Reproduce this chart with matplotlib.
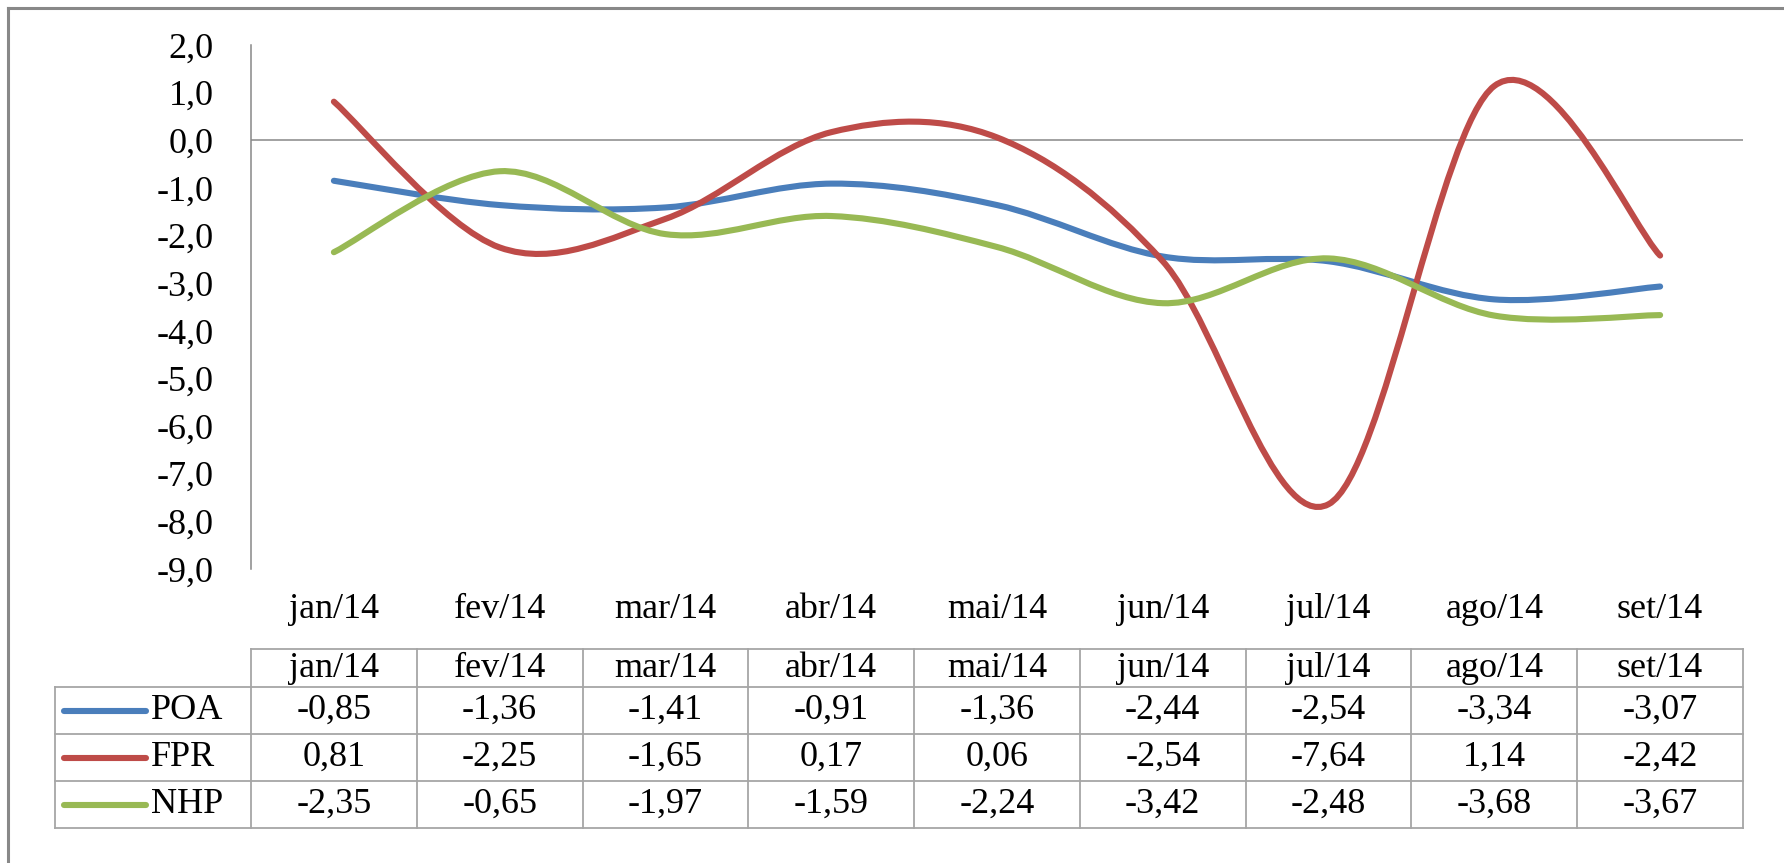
import numpy as np
import matplotlib
matplotlib.use("Agg")
import matplotlib.pyplot as plt
from matplotlib.path import Path
from matplotlib.patches import PathPatch
from matplotlib.lines import Line2D
from matplotlib.transforms import blended_transform_factory
from matplotlib.ticker import FuncFormatter

months = ["jan/14", "fev/14", "mar/14", "abr/14", "mai/14",
          "jun/14", "jul/14", "ago/14", "set/14"]
poa = [-0.85, -1.36, -1.41, -0.91, -1.36, -2.44, -2.54, -3.34, -3.07]
fpr = [0.81, -2.25, -1.65, 0.17, 0.06, -2.54, -7.64, 1.14, -2.42]
nhp = [-2.35, -0.65, -1.97, -1.59, -2.24, -3.42, -2.48, -3.68, -3.67]
names = ["POA", "FPR", "NHP"]
colors = ["#4A7EBB", "#BE4B48", "#98B954"]

plt.rcParams["font.family"] = ["Liberation Serif", "DejaVu Serif"]
FS = 26
GRID = "#A6A6A6"
AXC = "#888888"

W, H = 1784, 863
fig = plt.figure(figsize=(W / 100, H / 100), dpi=100)


def fx(px):
    return px / W


def fy(py):
    return 1 - py / H


ax = fig.add_axes([fx(251), fy(569), fx(1743) - fx(251), fy(45) - fy(569)])


# excel-like smoothed line (cubic bezier through the points)
def smooth_path(xs, ys):
    pts = np.column_stack([xs, ys]).astype(float)
    n = len(pts)
    verts = [pts[0]]
    codes = [Path.MOVETO]
    for i in range(n - 1):
        p0 = pts[max(i - 1, 0)]
        p1 = pts[i]
        p2 = pts[i + 1]
        p3 = pts[min(i + 2, n - 1)]
        verts += [p1 + (p2 - p0) / 6, p2 - (p3 - p1) / 6, p2]
        codes += [Path.CURVE4] * 3
    return Path(verts, codes)


x = np.arange(len(months))
for vals, c in zip([poa, fpr, nhp], colors):
    ax.add_patch(PathPatch(smooth_path(x, vals), fill=False, edgecolor=c,
                           lw=4.4, capstyle="round", joinstyle="round",
                           zorder=3))

ax.set_xlim(-0.5, len(months) - 0.5)
ax.set_ylim(-9, 2)
ax.set_yticks(np.arange(-9, 3, 1))
ax.yaxis.set_major_formatter(FuncFormatter(lambda v, _: f"{v:.1f}".replace(".", ",")))
ax.set_xticks(x)
ax.set_xticklabels(months)
ax.tick_params(axis="y", length=0, pad=27, labelsize=FS)
ax.tick_params(axis="x", length=0, pad=17, labelsize=FS)
for s in ["top", "right", "bottom"]:
    ax.spines[s].set_visible(False)
ax.spines["left"].set_color(AXC)
ax.spines["left"].set_linewidth(1.1)
ax.axhline(0, color=AXC, lw=1.1, zorder=1)

# --- data table under the chart
tr = blended_transform_factory(ax.transData, fig.transFigure)
rows = [649, 687, 734, 781, 828]
xl, xr = -0.5, len(months) - 0.5

fig.add_artist(Line2D([xl, xr], [fy(rows[0])] * 2, transform=tr, color=GRID, lw=1.3))
for ry in rows[1:]:
    fig.add_artist(Line2D([fx(55), fx(1743)], [fy(ry)] * 2, color=GRID, lw=1.3))
for k in range(len(months) + 1):
    fig.add_artist(Line2D([xl + k] * 2, [fy(rows[0]), fy(rows[-1])], transform=tr,
                          color=GRID, lw=1.3))
fig.add_artist(Line2D([fx(55)] * 2, [fy(rows[1]), fy(rows[-1])], color=GRID, lw=1.3))

for i, m in enumerate(months):
    fig.text(i, fy((rows[0] + rows[1]) / 2), m, transform=tr, ha="center",
             va="center", fontsize=FS)

for r, (vals, nm, c) in enumerate(zip([poa, fpr, nhp], names, colors)):
    yc = fy((rows[r + 1] + rows[r + 2]) / 2)
    fig.add_artist(Line2D([fx(64), fx(146)], [yc, yc], color=c, lw=4.4,
                          solid_capstyle="round"))
    fig.text(fx(151), yc, nm, ha="left", va="center", fontsize=FS)
    for i, v in enumerate(vals):
        fig.text(i, yc, f"{v:.2f}".replace(".", ","), transform=tr,
                 ha="center", va="center", fontsize=FS)

# outer chart frame (only top and left visible)
fig.add_artist(Line2D([fx(8), fx(8)], [fy(8), -0.01], color=AXC, lw=2.2))
fig.add_artist(Line2D([fx(8), 1.01], [fy(8), fy(8)], color=AXC, lw=2.2))

fig.savefig("out.png", dpi=100)
plt.close(fig)
